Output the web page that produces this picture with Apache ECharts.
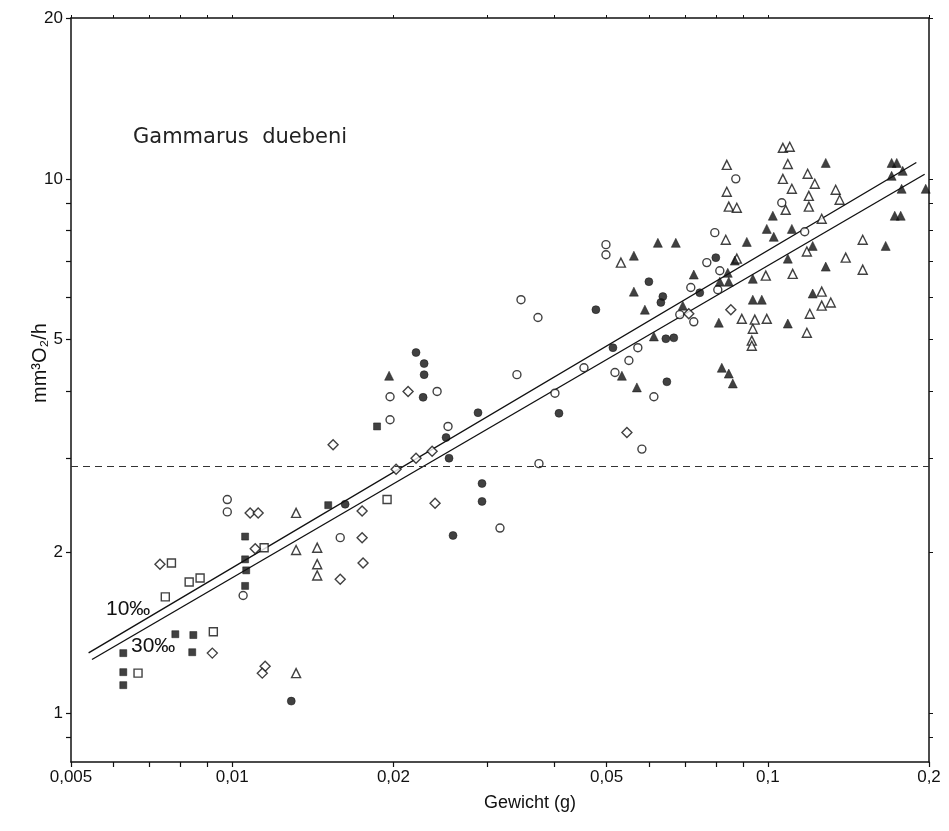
<!DOCTYPE html>
<html>
<head>
<meta charset="utf-8">
<script src="https://cdn.jsdelivr.net/npm/echarts@6/dist/echarts.min.js"></script>
<style>
  html, body { margin: 0; padding: 0; background: #fff; }
  #chart { width: 949px; height: 831px; }
</style>
</head>
<body>
<div id="chart"></div>
<script>
// Gammarus duebeni: body weight (g) vs. oxygen uptake (mm³ O₂/h), one array per symbol
const filledSquares = [
  [0.01057, 2.14], [0.01057, 1.94], [0.01062, 1.85], [0.01057, 1.73],
  [0.00783, 1.405], [0.00846, 1.40], [0.00842, 1.30], [0.00626, 1.295],
  [0.00626, 1.193], [0.00626, 1.128], [0.01511, 2.45], [0.01864, 3.44]
];
const openSquares = [
  [0.01147, 2.04], [0.0077, 1.91], [0.00831, 1.76], [0.00871, 1.79],
  [0.0075, 1.65], [0.00922, 1.42], [0.00667, 1.188], [0.01946, 2.51]
];
const openDiamonds = [
  [0.0108, 2.37], [0.01118, 2.37], [0.01104, 2.03], [0.00733, 1.90],
  [0.00918, 1.295], [0.01152, 1.224], [0.01138, 1.188], [0.01543, 3.18],
  [0.01748, 2.39], [0.02023, 2.86], [0.01748, 2.13], [0.01755, 1.91],
  [0.01591, 1.78], [0.0213, 4.00], [0.02362, 3.09], [0.02204, 3.00],
  [0.02392, 2.47], [0.05457, 3.35], [0.0712, 5.59], [0.08531, 5.69]
];
const openCircles = [
  [0.00979, 2.51], [0.00979, 2.38], [0.01048, 1.66], [0.01591, 2.13],
  [0.01971, 3.91], [0.02413, 4.00], [0.01971, 3.54], [0.02529, 3.44],
  [0.03461, 5.94], [0.03723, 5.50], [0.03401, 4.30], [0.04005, 3.97],
  [0.04537, 4.43], [0.05504, 4.57], [0.05184, 4.34], [0.03739, 2.93],
  [0.03162, 2.22], [0.0582, 3.12], [0.0572, 4.83], [0.06128, 3.91],
  [0.0685, 5.57], [0.07275, 5.40], [0.07182, 6.26], [0.07694, 6.97],
  [0.08136, 6.73], [0.08066, 6.20], [0.07963, 7.93], [0.1062, 9.02],
  [0.1172, 7.96], [0.08715, 10.0], [0.04987, 7.53], [0.04987, 7.21]
];
const filledCircles = [
  [0.01625, 2.46], [0.02204, 4.73], [0.02282, 4.51], [0.02282, 4.30],
  [0.02272, 3.90], [0.02508, 3.28], [0.02877, 3.65], [0.0254, 3.00],
  [0.02927, 2.69], [0.02927, 2.49], [0.02584, 2.15], [0.04776, 5.69],
  [0.05139, 4.83], [0.04075, 3.64], [0.05998, 6.42], [0.06369, 6.02],
  [0.06315, 5.87], [0.0648, 4.17], [0.06452, 5.02], [0.06676, 5.04],
  [0.07465, 6.12], [0.07998, 7.12], [0.01289, 1.053]
];
const openTriangles = [
  [0.01316, 2.37], [0.01316, 2.02], [0.01441, 2.04], [0.01441, 1.90],
  [0.01441, 1.81], [0.01316, 1.188], [0.05318, 6.97], [0.08348, 7.69],
  [0.08456, 8.87], [0.08753, 8.83], [0.08384, 9.46], [0.08384, 10.62],
  [0.08753, 7.09], [0.09915, 6.59], [0.08943, 5.47], [0.09457, 5.45],
  [0.09957, 5.47], [0.09376, 5.24], [0.09335, 4.98], [0.09335, 4.87],
  [0.1067, 11.43], [0.1099, 11.48], [0.109, 10.66], [0.1067, 10.0],
  [0.1187, 10.22], [0.1224, 9.79], [0.1109, 9.58], [0.1193, 9.29],
  [0.1339, 9.54], [0.1362, 9.14], [0.1193, 8.87], [0.108, 8.75],
  [0.1261, 8.42], [0.1504, 7.69], [0.1183, 7.31], [0.1398, 7.12],
  [0.1113, 6.64], [0.1504, 6.76], [0.1261, 6.15], [0.1261, 5.79],
  [0.1311, 5.87], [0.1198, 5.59], [0.1183, 5.15]
];
const filledTriangles = [
  [0.01963, 4.28], [0.05623, 7.18], [0.05623, 6.15], [0.06234, 7.59],
  [0.06734, 7.59], [0.05895, 5.69], [0.05341, 4.28], [0.05696, 4.07],
  [0.06128, 5.07], [0.06939, 5.79], [0.07275, 6.62], [0.0842, 6.67],
  [0.08136, 6.42], [0.08456, 6.42], [0.09137, 7.62], [0.1022, 8.53],
  [0.09957, 8.06], [0.1026, 7.79], [0.09376, 6.50], [0.09376, 5.94],
  [0.09746, 5.94], [0.08101, 5.38], [0.08206, 4.43], [0.08456, 4.32],
  [0.08604, 4.14], [0.1283, 10.71], [0.1703, 10.71], [0.1741, 10.71],
  [0.1703, 10.13], [0.1786, 10.35], [0.1778, 9.58], [0.1972, 9.58],
  [0.1726, 8.53], [0.1771, 8.53], [0.1109, 8.06], [0.1213, 7.49],
  [0.166, 7.49], [0.109, 7.09], [0.1283, 6.85], [0.1213, 6.10],
  [0.109, 5.36], [0.08678, 7.03]
];

// Fitted lines for the two salinities (end points)
const line10 = [[0.005393, 1.296], [0.1894, 10.73]];
const line30 = [[0.005472, 1.260], [0.1963, 10.20]];
const lineNames = ['10‰', '30‰'];

// Axis ticks and labels
const xTicks = [0.005, 0.006, 0.007, 0.008, 0.009, 0.01, 0.02, 0.03, 0.04, 0.05,
                0.06, 0.07, 0.08, 0.09, 0.1, 0.2];
const xLabels = [0.005, 0.01, 0.02, 0.05, 0.1, 0.2];
const yTicks = [0.9, 1, 2, 3, 4, 5, 6, 7, 8, 9, 10, 20];
const yLabels = [1, 2, 5, 10, 20];
const foldLineLevel = 2.9;

const INK = '#111';
const tickFont = 'Liberation Sans Narrow, Liberation Sans, Arial, sans-serif';
const comma = v => String(+v).replace('.', ',');

function logAxis(extra) {
  return Object.assign({
    type: 'log',
    logBase: 10,
    splitLine: { show: false },
    axisLine: { show: true, onZero: false, lineStyle: { color: INK, width: 1.5 } },
    axisTick: { show: true, length: 5, lineStyle: { color: INK, width: 1.2 } },
    axisLabel: { show: false },
    minorTick: { show: false }
  }, extra);
}

function scatter(name, data, symbol, filled, size) {
  return {
    name, type: 'scatter', data, symbol, symbolSize: size,
    itemStyle: filled
      ? { color: INK, borderColor: INK, borderWidth: 0.6 }
      : { color: '#fff', borderColor: INK, borderWidth: 1.4 },
    z: 3
  };
}

function fitLine(name, data) {
  return {
    name, type: 'line', data, showSymbol: false, symbol: 'none',
    lineStyle: { color: INK, width: 1.4 }, z: 2, silent: true
  };
}

const xRange = { min: 0.005, max: 0.2 };
const yRange = { min: 0.81, max: 20 };

const chart = echarts.init(document.getElementById('chart'), null, { renderer: 'canvas' });
chart.setOption({
  backgroundColor: '#fff',
  animation: false,
  grid: { left: 71, right: 20, top: 18, bottom: 69 },
  xAxis: [
    logAxis(Object.assign({
      position: 'bottom',
      axisTick: { show: true, length: 5, customValues: xTicks, lineStyle: { color: INK, width: 1.2 } },
      axisLabel: {
        show: true, customValues: xLabels, margin: 7, color: INK,
        fontFamily: tickFont, fontSize: 17, formatter: comma
      },
      name: 'Gewicht (g)',
      nameLocation: 'middle',
      nameGap: 32,
      nameMoveOverlap: false,
      nameTextStyle: { color: INK, fontFamily: tickFont, fontSize: 18, padding: [0, 0, 0, 60] }
    }, xRange)),
    logAxis(Object.assign({
      position: 'top',
      axisTick: { show: true, length: 3, customValues: xTicks, lineStyle: { color: INK, width: 1 } }
    }, xRange))
  ],
  yAxis: [
    logAxis(Object.assign({
      position: 'left',
      axisTick: { show: true, length: 5, customValues: yTicks, lineStyle: { color: INK, width: 1.2 } },
      axisLabel: {
        show: true, customValues: yLabels, margin: 8, color: INK,
        fontFamily: tickFont, fontSize: 17
      },
      name: 'mm³O₂/h',
      nameLocation: 'middle',
      nameRotate: 90,
      nameGap: 21,
      nameMoveOverlap: false,
      nameTextStyle: { color: INK, fontFamily: tickFont, fontSize: 20, padding: [0, 0, 0, 54] }
    }, yRange)),
    logAxis(Object.assign({
      position: 'right',
      axisTick: { show: true, length: 4, customValues: yTicks, lineStyle: { color: INK, width: 1 } }
    }, yRange))
  ],
  graphic: [
    {
      type: 'text', left: 133, top: 127,
      style: { text: 'Gammarus  duebeni', fill: '#222', font: '21px "DejaVu Sans", sans-serif' }
    },
    {
      type: 'text', left: 106, top: 599,
      style: { text: lineNames[0], fill: INK, font: '21px "Liberation Sans Narrow", "Liberation Sans", sans-serif' }
    },
    {
      type: 'text', left: 131, top: 636,
      style: { text: lineNames[1], fill: INK, font: '21px "Liberation Sans Narrow", "Liberation Sans", sans-serif' }
    }
  ],
  series: [
    Object.assign(fitLine(lineNames[0], line10), {
      markLine: {
        silent: true, symbol: 'none', label: { show: false },
        lineStyle: { color: '#333', width: 1, type: [7, 5] },
        data: [{ yAxis: foldLineLevel }]
      }
    }),
    fitLine(lineNames[1], line30),
    scatter('filled squares', filledSquares, 'rect', true, 7),
    scatter('open squares', openSquares, 'rect', false, 8),
    scatter('open diamonds', openDiamonds, 'diamond', false, 10),
    scatter('open circles', openCircles, 'circle', false, 8),
    scatter('filled circles', filledCircles, 'circle', true, 8),
    scatter('open triangles', openTriangles, 'triangle', false, 9),
    scatter('filled triangles', filledTriangles, 'triangle', true, 9)
  ]
});
</script>
</body>
</html>
